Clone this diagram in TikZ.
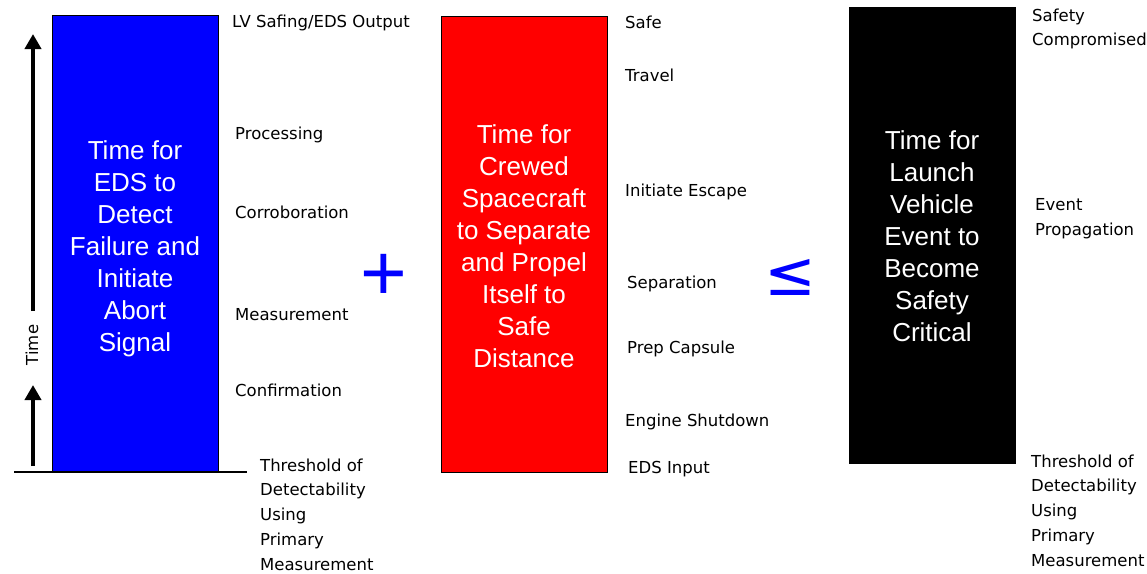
\documentclass[tikz,border=0pt]{standalone}
\usepackage{fontspec}
\setmainfont{DejaVu Sans}
\newfontfamily\arialf{Liberation Sans}
\newfontfamily\dejaf{DejaVu Sans}
\usetikzlibrary{arrows.meta}
\definecolor{pblue}{RGB}{0,0,255}
\definecolor{pred}{RGB}{255,0,0}
\tikzset{
  bar/.style={draw=black, line width=1.2pt, minimum width=166pt, inner sep=0pt, anchor=north west},
  bartext/.style={text=white, align=center, font=\arialf\fontsize{26}{32}\selectfont, inner sep=0pt},
  lab/.style={anchor=west, inner sep=0pt, align=left, font=\fontsize{16.5}{24.7}\selectfont},
  timearrow/.style={line width=4pt, -{Triangle[width=16pt,length=15pt]}},
  sym/.style={text=pblue, inner sep=0pt}
}
\begin{document}
\begin{tikzpicture}[x=1pt,y=-1pt]
\useasboundingbox (0,0) rectangle (1147,573);
% boxes
\node[bar, fill=pblue, minimum height=457pt] (bbox) at (52,15) {};
\node[bar, fill=pred, minimum height=456pt] (rbox) at (441,16) {};
\node[bar, fill=black, minimum height=456pt] (kbox) at (849,7) {};
\node[bartext] (btext) at (135,248.5) {Time for\\EDS to\\Detect\\Failure and\\Initiate\\Abort\\Signal};
\node[bartext] (rtext) at (524,246.5) {Time for\\Crewed\\Spacecraft\\to Separate\\and Propel\\Itself to\\Safe\\Distance};
\node[bartext] (ktext) at (932,236.5) {Time for\\Launch\\Vehicle\\Event to\\Become\\Safety\\Critical};
% baseline
\coordinate (bl0) at (14,472);
\coordinate (bl1) at (247,472);
\draw[line width=1.2pt] (bl0) -- (bl1);
% time arrows
\coordinate (a1s) at (33,311);
\coordinate (a1e) at (33,34);
\coordinate (a2s) at (33,466);
\coordinate (a2e) at (33,385);
\draw[timearrow] (a1s) -- (a1e);
\draw[timearrow] (a2s) -- (a2e);
\node[rotate=90, inner sep=0pt, font=\fontsize{16.5}{20}\selectfont] (time) at (32,345) {Time};
% blue labels
\node[lab] (l1) at (232,22.5) {LV Safing/EDS Output};
\node[lab] (l2) at (235,134.5) {Processing};
\node[lab] (l3) at (235,212) {Corroboration};
\node[lab] (l4) at (235,315) {Measurement};
\node[lab] (l5) at (235,390) {Confirmation};
\node[lab] (l6) at (260,514.5) {Threshold of\\Detectability\\Using\\Primary\\Measurement};
% red labels
\node[lab] (r1) at (625,22.5) {Safe};
\node[lab] (r2) at (625,75) {Travel};
\node[lab] (r3) at (625,191.5) {Initiate Escape};
\node[lab] (r4) at (627,283.5) {Separation};
\node[lab] (r5) at (627,348.5) {Prep Capsule};
\node[lab] (r6) at (625,421.5) {Engine Shutdown};
\node[lab] (r7) at (628,469.5) {EDS Input};
% black labels
\node[lab] (k1) at (1032,29) {Safety\\Compromised};
\node[lab] (k2) at (1035,218.5) {Event\\Propagation};
\node[lab] (k3) at (1031,510.5) {Threshold of\\Detectability\\Using\\Primary\\Measurement};
% operators
\node[sym, font=\arialf\fontsize{80}{80}\selectfont] (plus) at (384,277) {+};
\node[sym, font=\dejaf\fontsize{62}{62}\selectfont] (leq) at (790,277) {≤};
\end{tikzpicture}
\end{document}
